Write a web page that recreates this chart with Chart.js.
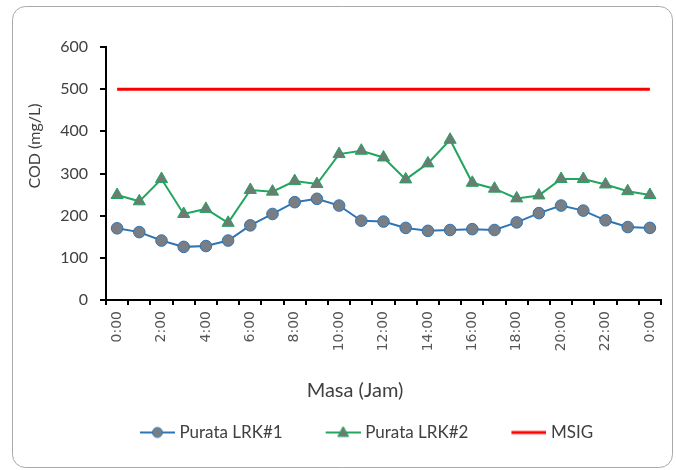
<!DOCTYPE html>
<html>
<head>
<meta charset="utf-8">
<script src="https://cdn.jsdelivr.net/npm/chart.js@4.4.1/dist/chart.umd.min.js"></script>
<style>
  html, body { margin: 0; padding: 0; background: #ffffff; }
  #wrap { position: relative; width: 676px; height: 470px; }
</style>
</head>
<body>
<div id="wrap"><canvas id="cod"></canvas></div>
<script>
// Hourly sampling times over one day
const hours = ['0:00','1:00','2:00','3:00','4:00','5:00','6:00','7:00','8:00','9:00','10:00','11:00',
               '12:00','13:00','14:00','15:00','16:00','17:00','18:00','19:00','20:00','21:00','22:00','23:00','0:00'];

// Average COD readings (mg/L)
const purataLRK1 = [170,161,141,126,128,141,177,204,232,240,224,188,186,171,164,166,168,166,184,206,224,212,189,173,171];
const purataLRK2 = [249,234,287,204,216,183,261,257,282,275,346,354,338,286,324,380,278,264,241,248,287,287,274,258,249];
// Discharge limit
const msigLimit = [500,500,500,500,500,500,500,500,500,500,500,500,500,500,500,500,500,500,500,500,500,500,500,500,500];

const yTicks = [0,100,200,300,400,500,600];

const BLUE = '#2E75B6', GREEN = '#22A55E', RED = '#FF0000';
const DOT_FILL = '#787e84', TRI_FILL = '#6e7b74';
const TEXT = '#404040';

// Legend swatches: a short line with the series marker, drawn on the right of the image
function legendIcon(color, marker, fill, lw) {
  const c = document.createElement('canvas');
  c.width = 72; c.height = 14;
  const g = c.getContext('2d');
  g.strokeStyle = color; g.lineWidth = lw;
  g.beginPath(); g.moveTo(37, 7); g.lineTo(72, 7); g.stroke();
  const cx = 54.5, cy = 7;
  if (marker === 'circle') {
    g.beginPath(); g.arc(cx, cy, 5, 0, Math.PI * 2);
    g.fillStyle = fill; g.fill(); g.lineWidth = 1; g.strokeStyle = color; g.stroke();
  } else if (marker === 'triangle') {
    g.beginPath(); g.moveTo(cx, cy - 6); g.lineTo(cx + 5.5, cy + 4); g.lineTo(cx - 5.5, cy + 4); g.closePath();
    g.fillStyle = fill; g.fill(); g.lineWidth = 1; g.strokeStyle = color; g.stroke();
  }
  return c;
}
const legendIcons = [
  legendIcon(BLUE, 'circle', DOT_FILL, 2),
  legendIcon(GREEN, 'triangle', TRI_FILL, 2),
  legendIcon(RED, null, null, 3)
];

// Rounded frame and axis titles
const decor = {
  id: 'decor',
  beforeDraw(chart) {
    const g = chart.ctx;
    g.save();
    g.fillStyle = '#ffffff';
    g.fillRect(0, 0, chart.width, chart.height);
    g.beginPath();
    g.roundRect(12.5, 6.5, 660, 461, 13);
    g.strokeStyle = '#a9a9a9'; g.lineWidth = 1;
    g.stroke();
    g.restore();
  },
  afterDraw(chart) {
    const g = chart.ctx;
    g.save();
    g.fillStyle = TEXT;
    g.textAlign = 'center'; g.textBaseline = 'middle';
    g.font = '20px Lato';
    g.fillText('Masa (Jam)', 355, 391);
    g.font = '16px Lato';
    g.translate(35, 146);
    g.rotate(-Math.PI / 2);
    g.fillText('COD (mg/L)', 0, 0);
    g.restore();
  }
};

new Chart(document.getElementById('cod'), {
  type: 'line',
  data: {
    labels: hours,
    datasets: [
      {
        label: 'Purata LRK#1', data: purataLRK1,
        borderColor: BLUE, borderWidth: 2, tension: 0,
        pointStyle: 'circle', pointRadius: 5.8, pointBackgroundColor: DOT_FILL,
        pointBorderColor: BLUE, pointBorderWidth: 1
      },
      {
        label: 'Purata LRK#2', data: purataLRK2,
        borderColor: GREEN, borderWidth: 2, tension: 0,
        pointStyle: 'triangle', pointRadius: 7, pointBackgroundColor: TRI_FILL,
        pointBorderColor: GREEN, pointBorderWidth: 1
      },
      {
        label: 'MSIG', data: msigLimit,
        borderColor: RED, borderWidth: 3, pointRadius: 0, tension: 0
      }
    ]
  },
  options: {
    responsive: true,
    maintainAspectRatio: false,
    animation: false,
    events: [],
    layout: { padding: { left: 39, right: 15, top: 47, bottom: 19 } },
    plugins: {
      tooltip: { enabled: false },
      legend: {
        position: 'bottom',
        labels: {
          usePointStyle: true,
          pointStyleWidth: 64,
          padding: 10,
          color: TEXT,
          font: { family: 'Lato', size: 17 },
          generateLabels(chart) {
            const items = Chart.defaults.plugins.legend.labels.generateLabels(chart);
            items.forEach((it, i) => { it.pointStyle = legendIcons[i]; });
            return items;
          }
        }
      }
    },
    scales: {
      x: {
        type: 'category',
        offset: true,
        afterFit(scale) { scale.height = 114; },
        border: { display: true, color: '#000000', width: 2 },
        grid: { offset: true, drawOnChartArea: false, drawTicks: true, tickLength: 5, color: '#000000', lineWidth: 2 },
        ticks: {
          autoSkip: false, minRotation: 90, maxRotation: 90, padding: 6,
          color: '#555555', font: { family: 'DejaVu Sans', size: 14 },
          callback(value, index) { return index % 2 === 0 ? hours[index] : ''; }
        }
      },
      y: {
        min: 0, max: 600,
        afterFit(scale) { scale.width = 67; },
        afterBuildTicks(scale) { scale.ticks = yTicks.map(v => ({ value: v })); },
        border: { display: true, color: '#000000', width: 2 },
        grid: { drawOnChartArea: false, drawTicks: true, tickLength: 6, color: '#000000', lineWidth: 2 },
        ticks: { padding: 12, color: TEXT, font: { family: 'Lato', size: 16 } }
      }
    }
  },
  plugins: [decor]
});
</script>
</body>
</html>
